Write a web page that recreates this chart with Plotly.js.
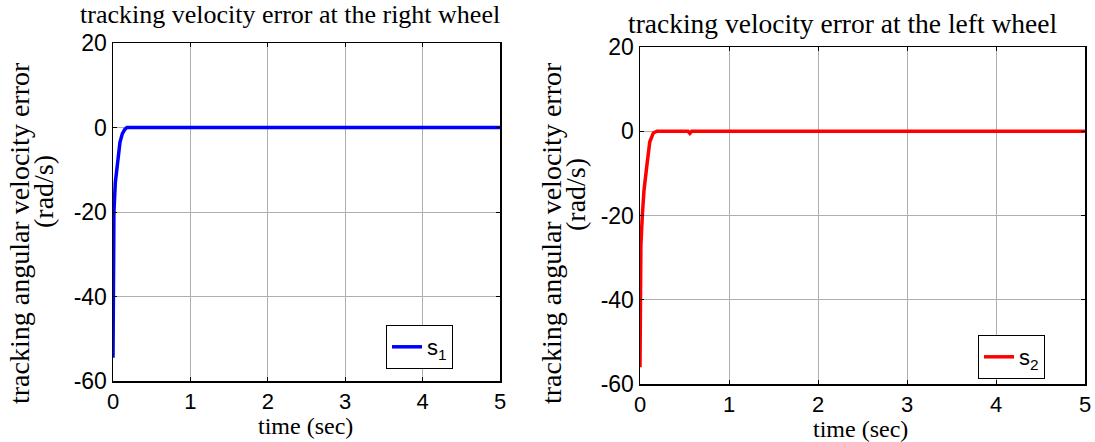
<!DOCTYPE html>
<html>
<head>
<meta charset="utf-8">
<script src="https://cdn.plot.ly/plotly-3.0.1.min.js"></script>
<style>html,body{margin:0;padding:0;background:#fff;}#chart{width:1095px;height:442px;}</style>
</head>
<body>
<div id="chart"></div>
<script>
// Right wheel error s1
const tRight = [0, 0.001, 0.003, 0.006, 0.012, 0.03, 0.05, 0.07, 0.09, 0.12, 0.15, 0.18, 0.6, 1, 2, 3, 4, 5];
const sRight = [-54.5, -40, -30, -25, -20, -13, -9.5, -6, -3.5, -1.5, -0.5, 0, 0, 0, 0, 0, 0, 0];
// Left wheel error s2
const tLeft = [0, 0.002, 0.005, 0.01, 0.026, 0.045, 0.075, 0.11, 0.15, 0.19, 0.54, 0.56, 0.58, 1, 2, 3, 4, 5];
const sLeft = [-56, -45, -35, -27, -20, -14, -8.5, -2.5, -0.4, 0, 0, -0.5, 0, 0, 0, 0, 0, 0];

const xTicks = [0, 1, 2, 3, 4, 5];
const yTicks = [-60, -40, -20, 0, 20];
const titleRight = 'tracking velocity error at the right wheel';
const titleLeft = 'tracking velocity error at the left wheel';
const yLabel1 = 'tracking angular velocity error';
const yLabel2 = '(rad/s)';
const xLabel = 'time (sec)';

const serif = 'Liberation Serif, Times New Roman, serif';
const sans = 'Liberation Sans, Arial, sans-serif';

function xax(domain, anchor) {
  return {domain: domain, anchor: anchor, range: [0, 5], tickvals: xTicks, ticktext: xTicks.map(String),
    showgrid: true, gridcolor: '#b0b0b0', gridwidth: 1, zeroline: false,
    showline: true, linecolor: '#000', linewidth: 1.5, mirror: 'ticks',
    ticks: 'inside', ticklen: 4, tickcolor: '#000',
    tickfont: {family: sans, size: 22, color: '#000'}, fixedrange: true};
}
function yax(domain, anchor) {
  return {domain: domain, anchor: anchor, range: [-60, 20], tickvals: yTicks, ticktext: yTicks.map(String),
    showgrid: true, gridcolor: '#b0b0b0', gridwidth: 1, zeroline: false,
    showline: true, linecolor: '#000', linewidth: 1.5, mirror: 'ticks',
    ticks: 'inside', ticklen: 4, tickcolor: '#000',
    tickfont: {family: sans, size: 23, color: '#000'}, fixedrange: true};
}

const traces = [
  {x: tRight, y: sRight, type: 'scatter', mode: 'lines', name: 's<sub>1</sub>',
   line: {color: '#0000ff', width: 3.5}, xaxis: 'x', yaxis: 'y', legend: 'legend'},
  {x: tLeft, y: sLeft, type: 'scatter', mode: 'lines', name: 's<sub>2</sub>',
   line: {color: '#ff0000', width: 3.5}, xaxis: 'x2', yaxis: 'y2', legend: 'legend2'}
];

const W = 1095, H = 442;
function ann(text, x, y, size, angle) {
  return {text: text, xref: 'paper', yref: 'paper', x: x / W, y: 1 - y / H, xanchor: 'center', yanchor: 'middle',
    textangle: angle || 0, showarrow: false, font: {family: serif, size: size, color: '#000'}};
}
const layout = {
  width: W, height: H,
  margin: {l: 0, r: 0, t: 0, b: 0},
  paper_bgcolor: '#fff', plot_bgcolor: '#fff',
  showlegend: true,
  xaxis: xax([113 / W, 500 / W], 'y'),
  yaxis: yax([1 - 381 / H, 1 - 43 / H], 'x'),
  xaxis2: xax([640 / W, 1085 / W], 'y2'),
  yaxis2: yax([1 - 384 / H, 1 - 47 / H], 'x2'),
  legend: {x: 386 / W, y: 1 - 325 / H, xanchor: 'left', yanchor: 'top',
    bgcolor: '#fff', bordercolor: '#000', borderwidth: 1,
    font: {family: sans, size: 22, color: '#000'}},
  legend2: {x: 978 / W, y: 1 - 335 / H, xanchor: 'left', yanchor: 'top',
    bgcolor: '#fff', bordercolor: '#000', borderwidth: 1,
    font: {family: sans, size: 22, color: '#000'}},
  annotations: [
    ann(titleRight, 290, 15, 26),
    ann(titleLeft, 843, 23, 27.5),
    ann(xLabel, 305, 426, 24),
    ann(xLabel, 860, 428.5, 24),
    ann(yLabel1, 19, 233, 28, -90),
    ann(yLabel2, 43, 192, 28, -90),
    ann(yLabel1, 551, 233, 28, -90),
    ann(yLabel2, 575, 195, 28, -90)
  ]
};

Plotly.newPlot('chart', traces, layout, {displayModeBar: false, staticPlot: true});
</script>
</body>
</html>
